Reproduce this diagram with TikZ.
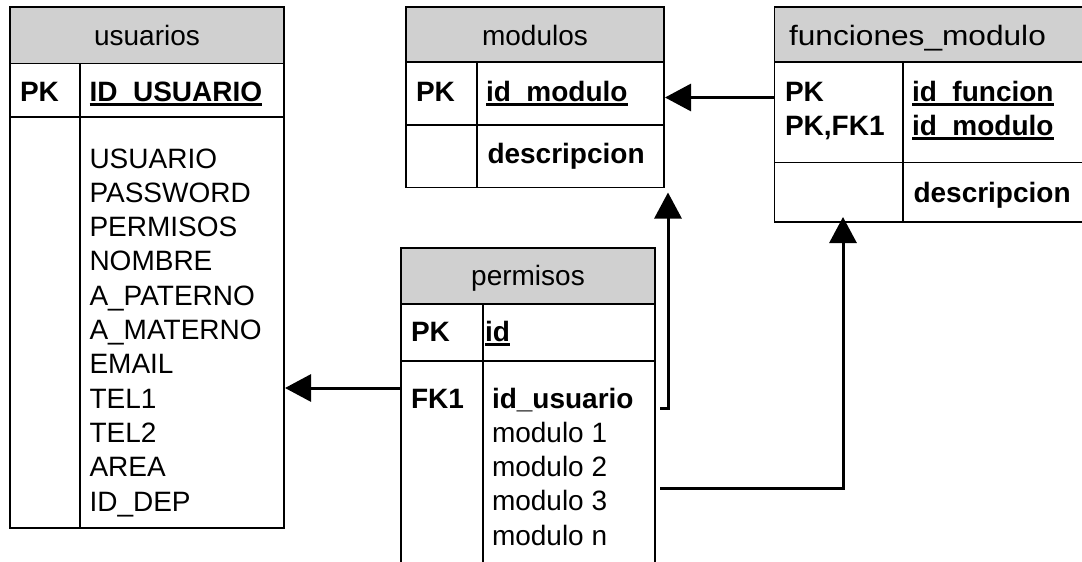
\documentclass[tikz,border=0pt]{standalone}
\usepackage{fontspec}
\usepackage{graphicx}
\setmainfont{Liberation Sans}
\usetikzlibrary{arrows.meta}
\definecolor{hdrgray}{RGB}{208,208,208}
\newcommand\myul[1]{\setbox0\hbox{#1}\rlap{\rule[-5pt]{\wd0}{2.8pt}}\box0}
\begin{document}
\begin{tikzpicture}[x=1pt,y=-1pt,
  tbl/.style={draw=black, line width=1.8pt, inner sep=0pt, outer sep=0pt, anchor=north west},
  hdr/.style={tbl, fill=hdrgray},
  sep/.style={line width=1.8pt},
  txt/.style={inner sep=0pt, outer sep=0pt, anchor=base west, font=\fontsize{28pt}{34.3pt}\selectfont},
  btxt/.style={txt, font=\fontsize{28pt}{34.3pt}\selectfont\bfseries},
  htxt/.style={txt, anchor=base},
  conn/.style={line width=3pt, -{Triangle[length=26pt,width=27pt]}},
]
\useasboundingbox (0,0) rectangle (1082,562);
\clip (0,0) rectangle (1082,562);

% ---------- usuarios ----------
\node[hdr, minimum width=274pt, minimum height=56.5pt] (usuariosH) at (10,7) {};
\node[tbl, minimum width=274pt, minimum height=521pt] (usuarios) at (10,7) {};
\draw[sep] (10,117) -- (284,117);
\draw[sep] (80,63.5) -- (80,528);
\node[htxt] (usuariosT) at (147,45) {usuarios};
\node[btxt] (uPK) at (20,101) {PK};
\node[btxt] (uID) at (89.5,101) {\myul{ID\_USUARIO}};
\foreach \t [count=\i from 0] in {USUARIO,PASSWORD,PERMISOS,NOMBRE,A\_PATERNO,A\_MATERNO,EMAIL,TEL1,TEL2,AREA,ID\_DEP}
  \node[txt] (uf\i) at (89.5,{168+34.3*\i}) {\t};

% ---------- modulos ----------
\node[hdr, minimum width=258pt, minimum height=55pt] (modulosH) at (406,7) {};
\node[tbl, minimum width=258pt, minimum height=180.5pt] (modulos) at (406,7) {};
\draw[sep] (406,125) -- (664,125);
\draw[sep] (477,62) -- (477,187.5);
\node[htxt] (modulosT) at (535,45) {modulos};
\node[btxt] (mPK) at (416,101) {PK};
\node[btxt] (mID) at (486,101) {\myul{id\_modulo}};
\node[btxt] (mDesc) at (487.5,163) {descripcion};

% ---------- funciones_modulo ----------
\node[hdr, minimum width=320pt, minimum height=55pt] (funcionesH) at (774.5,7) {};
\node[tbl, minimum width=320pt, minimum height=215pt] (funciones) at (774.5,7) {};
\draw[sep] (774.5,162.5) -- (1094.5,162.5);
\draw[sep] (903,62) -- (903,222);
\node[htxt] (funcionesT) at (917.5,45) {\scalebox{1.13}[1]{funciones\_modulo}};
\node[btxt] (fPK1) at (785,101) {PK};
\node[btxt] (fPK2) at (785,135) {PK,FK1};
\node[btxt] (fID1) at (912,101) {\myul{id\_funcion}};
\node[btxt] (fID2) at (912,135) {\myul{id\_modulo}};
\node[btxt] (fDesc) at (913.5,202) {descripcion};

% ---------- permisos ----------
\node[hdr, minimum width=254pt, minimum height=56pt] (permisosH) at (401,248) {};
\node[tbl, minimum width=254pt, minimum height=330pt] (permisos) at (401,248) {};
\draw[sep] (401,361) -- (655,361);
\draw[sep] (483,304) -- (483,578);
\node[htxt] (permisosT) at (528,285) {permisos};
\node[btxt] (pPK) at (411,341) {PK};
\node[btxt] (pID) at (485,341) {\myul{id}};
\node[btxt] (pFK) at (411,408) {FK1};
\node[btxt] (pUs) at (492,408) {id\_usuario};
\foreach \t [count=\i from 0] in {modulo 1,modulo 2,modulo 3,modulo n}
  \node[txt] (pm\i) at (492,{442.3+34.3*\i}) {\t};

% ---------- connectors ----------
\coordinate (rowA) at (0,388);
\coordinate (rowB) at (0,97.5);
\coordinate (stubC) at (660,408);
\coordinate (stubD) at (660,488);
\draw[conn, shorten >=1pt] (permisos.west |- rowA) -- (usuarios.east |- rowA);
\draw[conn, shorten >=1pt] (funciones.west |- rowB) -- (modulos.east |- rowB);
\draw[conn, shorten >=5pt] (stubC) -| ([xshift=133pt]modulos.south);
\draw[conn, shorten >=-5pt] (stubD) -| ([xshift=-91.5pt]funciones.south);
\end{tikzpicture}
\end{document}
